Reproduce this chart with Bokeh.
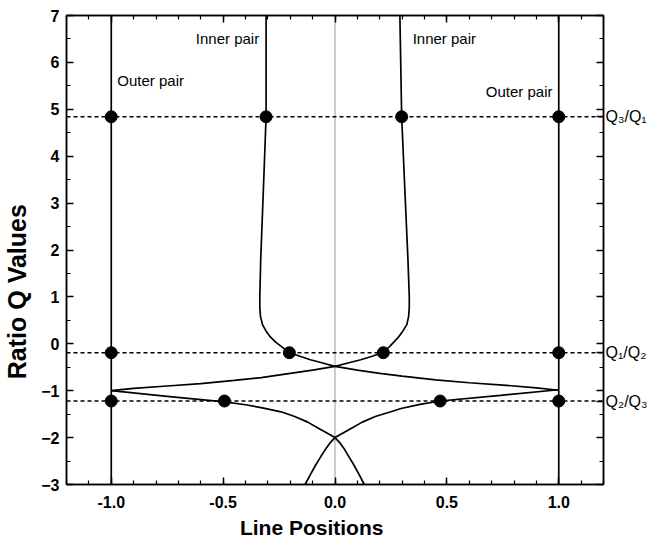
from bokeh.plotting import figure
from bokeh.models import (Range1d, SingleIntervalTicker, FixedTicker, LinearAxis, Label,
                          NumeralTickFormatter, Span)
from bokeh.embed import file_html
from bokeh.resources import INLINE

# ---------------- data ----------------
outer_left_x = [-1.0, -1.0]
outer_left_y = [-3.0, 7.0]
outer_right_x = [1.0, 1.0]
outer_right_y = [-3.0, 7.0]

# inner pair, left branch (continues through the centre crossing to (1,-1))
inner_a_x = [-0.308, -0.308, -0.320, -0.332, -0.336, -0.336, -0.333, -0.324, -0.308,
             -0.288, -0.264, -0.236, -0.204, -0.160, -0.110, -0.055, 0.0, 0.10,
             0.20, 0.30, 0.45, 0.60, 0.75, 0.90, 1.0]
inner_a_y = [7.0, 4.84, 3.3, 1.8, 1.0, 0.78, 0.58, 0.41, 0.27, 0.14, 0.03, -0.07,
             -0.19, -0.26, -0.34, -0.41, -0.48, -0.56, -0.63, -0.69, -0.77, -0.83,
             -0.88, -0.94, -0.99]

# inner pair, right branch (continues through the centre crossing to (-1,-1))
inner_b_x = [0.290, 0.298, 0.312, 0.326, 0.332, 0.332, 0.329, 0.321, 0.303, 0.283,
             0.262, 0.241, 0.216, 0.170, 0.115, 0.058, 0.0, -0.10, -0.20, -0.33,
             -0.45, -0.60, -0.75, -0.90, -1.0]
inner_b_y = [7.0, 4.84, 3.3, 1.8, 1.0, 0.78, 0.58, 0.41, 0.27, 0.14, 0.03, -0.07,
             -0.18, -0.26, -0.34, -0.41, -0.48, -0.56, -0.63, -0.72, -0.78, -0.85,
             -0.90, -0.95, -1.0]

# lower curves crossing at (0,-2)
lower_a_x = [-1.0, -0.75, -0.494, -0.40, -0.33, -0.241, -0.18, -0.122, -0.07, -0.03,
             0.0, 0.02, 0.04, 0.0625, 0.085, 0.108, 0.131]
lower_a_y = [-1.0, -1.12, -1.24, -1.30, -1.36, -1.45, -1.55, -1.67, -1.81, -1.92,
             -2.0, -2.10, -2.23, -2.41, -2.59, -2.79, -3.0]
lower_b_x = [1.0, 0.74, 0.47, 0.38, 0.295, 0.25, 0.18, 0.122, 0.07, 0.03, 0.0,
             -0.02, -0.04, -0.064, -0.087, -0.110, -0.134]
lower_b_y = [-0.98, -1.10, -1.22, -1.29, -1.38, -1.45, -1.55, -1.67, -1.81, -1.92,
             -2.0, -2.10, -2.23, -2.41, -2.59, -2.79, -3.0]

# ratio levels (dashed lines) and their labels
ratio_levels = [4.84, -0.19, -1.22]
ratio_labels = ["Q\u2083/Q\u2081", "Q\u2081/Q\u2082", "Q\u2082/Q\u2083"]

# marked points
dot_x = [-1.0, -0.308, 0.298, 1.0, -1.0, -0.204, 0.216, 1.0, -1.0, -0.494, 0.47, 1.0]
dot_y = [4.84, 4.84, 4.84, 4.84, -0.19, -0.19, -0.19, -0.19, -1.22, -1.22, -1.22, -1.22]

# tick values
x_ticks = [-1.0, -0.5, 0.0, 0.5, 1.0]
y_ticks = [-3, -2, -1, 0, 1, 2, 3, 4, 5, 6, 7]

x_title = "Line Positions"
y_title = "Ratio Q Values"

# ---------------- figure ----------------
FONT = "Liberation Sans"
NB = "\u00a0"

p = figure(width=660, height=544, x_range=Range1d(-1.2, 1.2), y_range=Range1d(-3, 7),
           output_backend="svg", toolbar_location=None,
           x_axis_label=x_title + NB * 8, y_axis_label=y_title + NB * 12,
           min_border_left=66, min_border_right=57, min_border_top=15,
           min_border_bottom=60)
p.grid.visible = False
p.background_fill_color = "white"
p.border_fill_color = "white"
p.outline_line_color = "black"
p.outline_line_width = 1.5

xt = SingleIntervalTicker(interval=0.5, num_minor_ticks=5)
yt = SingleIntervalTicker(interval=1, num_minor_ticks=2)
p.xaxis.ticker = xt
p.yaxis.ticker = yt
p.xaxis.formatter = NumeralTickFormatter(format="0.0")


def style_axis(ax, size, weight):
    ax.axis_line_width = 1.5
    ax.axis_line_color = "black"
    ax.major_tick_in = 7
    ax.major_tick_out = 0
    ax.minor_tick_in = 4
    ax.minor_tick_out = 0
    ax.major_tick_line_width = 1.5
    ax.minor_tick_line_width = 1.2
    ax.major_tick_line_color = "black"
    ax.minor_tick_line_color = "black"
    ax.major_label_text_font = FONT
    ax.major_label_text_font_style = weight
    ax.major_label_text_font_size = size
    ax.major_label_text_color = "black"
    ax.axis_label_text_font = FONT
    ax.axis_label_text_font_style = "bold"
    ax.axis_label_text_color = "black"


style_axis(p.xaxis[0], "16px", "bold")
style_axis(p.yaxis[0], "16px", "bold")
p.xaxis.major_label_standoff = 11
p.yaxis.major_label_standoff = 7
p.xaxis.axis_label_text_font_size = "21px"
p.yaxis.axis_label_text_font_size = "25px"
p.xaxis.axis_label_standoff = 5
p.yaxis.axis_label_standoff = 7

# top axis: ticks only (labels blanked)
top_ax = LinearAxis(ticker=xt, major_label_standoff=0,
                    major_label_overrides={t: "" for t in x_ticks})
style_axis(top_ax, "8px", "normal")
p.add_layout(top_ax, "above")

# right axis: integer ticks without labels, plus the ratio levels labelled
right_ticker = FixedTicker(ticks=[float(t) for t in y_ticks] + ratio_levels,
                           minor_ticks=[t + 0.5 for t in y_ticks[:-1]])
overrides = {float(t): "" for t in y_ticks}
for lv, txt in zip(ratio_levels, ratio_labels):
    overrides[lv] = txt
right_ax = LinearAxis(ticker=right_ticker, major_label_standoff=2,
                      major_label_overrides=overrides)
style_axis(right_ax, "16px", "normal")
p.add_layout(right_ax, "right")

# zero line
p.add_layout(Span(location=0, dimension="height", line_color="#9a9a9a",
                  line_width=1, level="underlay"))

# dashed ratio lines
for lv in ratio_levels:
    p.add_layout(Span(location=lv, dimension="width", line_color="black",
                      line_width=1.5, line_dash="4 3"))

LW = 1.7
p.line(outer_left_x, outer_left_y, line_color="black", line_width=LW)
p.line(outer_right_x, outer_right_y, line_color="black", line_width=LW)
p.line(inner_a_x, inner_a_y, line_color="black", line_width=LW)
p.line(inner_b_x, inner_b_y, line_color="black", line_width=LW)
p.line(lower_a_x, lower_a_y, line_color="black", line_width=LW)
p.line(lower_b_x, lower_b_y, line_color="black", line_width=LW)

p.scatter(dot_x, dot_y, size=12, color="black")

# in-plot labels
lab_kw = dict(text_font=FONT, text_font_size="15px", text_color="black",
              text_baseline="middle")
p.add_layout(Label(x=-0.339, y=6.52, text="Inner pair", text_align="right", **lab_kw))
p.add_layout(Label(x=0.347, y=6.52, text="Inner pair", text_align="left", **lab_kw))
p.add_layout(Label(x=-0.973, y=5.61, text="Outer pair", text_align="left", **lab_kw))
p.add_layout(Label(x=0.972, y=5.39, text="Outer pair", text_align="right", **lab_kw))

open("out.html", "w").write(file_html(p, INLINE))
